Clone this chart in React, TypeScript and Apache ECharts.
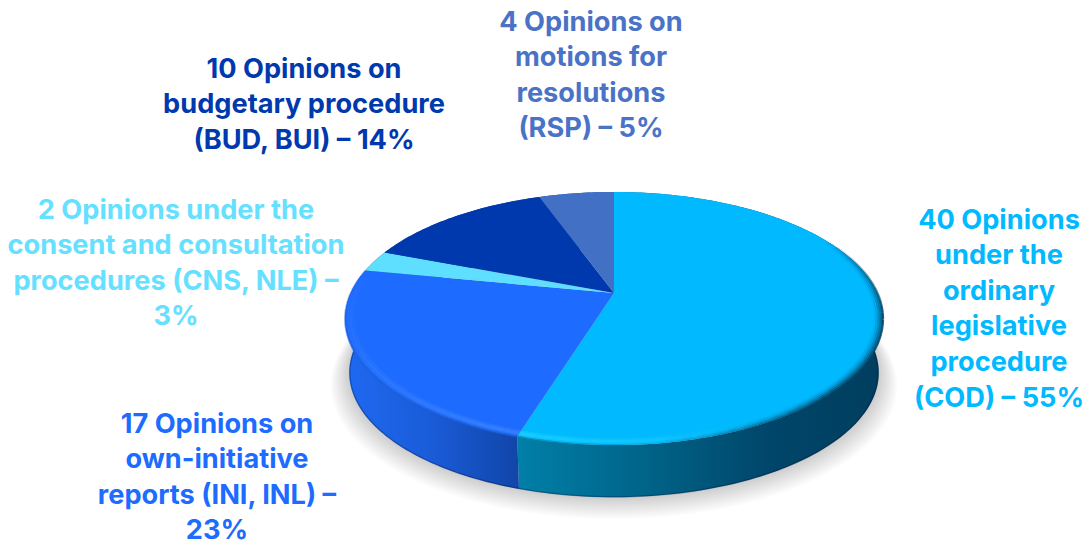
import React, { useEffect, useRef } from "react";
import * as echarts from "echarts";

const categories = ["COD", "INI", "CNS", "BUD", "RSP"];
const opinionCounts = [40, 17, 2, 10, 4];
const sliceColors = ["#00B9FF", "#1E6BFF", "#5FDFFF", "#0038AE", "#4270C4"];
const labelColors = ["#00B9FF", "#1E6BFF", "#66E0FF", "#0038AE", "#4A72C6"];
const labelLines = [
  ["40 Opinions", "under the", "ordinary", "legislative", "procedure", "(COD) – 55%"],
  ["17 Opinions on", "own-initiative", "reports (INI, INL) –", "23%"],
  ["2 Opinions under the", "consent and consultation", "procedures (CNS, NLE) –", "3%"],
  ["10 Opinions on", "budgetary procedure", "(BUD, BUI) – 14%"],
  ["4 Opinions on", "motions for", "resolutions", "(RSP) – 5%"],
];
const labelCenterX = [999, 217, 176, 304, 591];
const labelFirstY = [219, 423, 209, 68, 21];
const lineGap = 35.6;

const APEX_X = 614, APEX_Y = 293, R = 263.4, K = 121.4, P = 0.2017, DEPTH = 55, BOTTOM_R = 0.985;
const total = opinionCounts.reduce((a, b) => a + b, 0);
const project = (deg: number, r = 1, dy = 0): number[] => {
  const t = (deg * Math.PI) / 180;
  const x = r * Math.sin(t), z = r * Math.cos(t), w = 1 + P * z;
  return [APEX_X + (R * x) / w, APEX_Y - (K * z) / w + dy];
};
const arc = (a: number, b: number, r = 1, dy = 0) => {
  const pts: number[][] = [];
  const n = Math.max(2, Math.ceil(Math.abs(b - a)));
  for (let i = 0; i <= n; i++) pts.push(project(a + ((b - a) * i) / n, r, dy));
  return pts;
};
const range = (i: number) => {
  const before = opinionCounts.slice(0, i).reduce((a, b) => a + b, 0);
  return [(before / total) * 360, ((before + opinionCounts[i]) / total) * 360];
};
const hGrad = (stops: [number, string][]) => ({
  type: "linear", x: 345, y: 0, x2: 883, y2: 0, global: true,
  colorStops: stops.map(([o, color]) => ({ offset: (o - 345) / 538, color })),
});
const sideFill = [
  hGrad([[345, "#006A8F"], [519, "#007FA8"], [640, "#00658A"], [770, "#00466A"], [883, "#003E5E"]]),
  hGrad([[345, "#1E69F2"], [430, "#1A5CD8"], [519, "#1145A9"], [883, "#1145A9"]]),
];
const seriesData = opinionCounts.map((v, i) => ({ name: categories[i], value: v }));
// piecewise-linear opacity over the rim angle
const fade = (deg: number, keys: number[][]) => {
  if (deg <= keys[0][0]) return keys[0][1];
  for (let k = 1; k < keys.length; k++) {
    if (deg <= keys[k][0]) {
      const [a0, v0] = keys[k - 1], [a1, v1] = keys[k];
      return v0 + ((v1 - v0) * (deg - a0)) / (a1 - a0);
    }
  }
  return keys[keys.length - 1][1];
};
const rimSegments = (from: number, to: number, r: number, rgb: string, keys: number[][], peak: number, width: number) => {
  const out: any[] = [];
  const step = 3;
  for (let d = from; d < to; d += step) {
    const e = Math.min(to, d + step);
    const alpha = fade((d + e) / 2, keys) * peak;
    if (alpha < 0.01) continue;
    out.push({
      type: "polyline", shape: { points: arc(d, e, r) },
      style: { fill: "none", stroke: `rgba(${rgb},${alpha.toFixed(3)})`, lineWidth: width },
    });
  }
  return out;
};
const rimBands: number[][] = [[1, 0.85], [0.993, 0.6], [0.986, 0.36], [0.979, 0.18], [0.972, 0.07]];
const darkKeys = [[62, 0], [100, 1], [135, 1], [172, 0]];
const glowKeys = [[140, 0], [172, 0.6], [197.3, 1]];
const iniGlowKeys = [[197.3, 1], [245, 0.55], [276, 0.12], [281, 0]];
const iniEdgeKeys = [[197.3, 0.8], [250, 0.6], [281, 0.15]];
const SHADOW_LAYERS = [1, 2, 3, 4, 5, 6, 7, 8, 9, 10, 11, 12];

const renderSide = (params: any, api: any) => {
  const i = params.dataIndex;
  api.value(0);
  const [a, b] = range(i);
  const children: any[] = [];
  if (i === 0) {
    SHADOW_LAYERS.forEach((k) =>
      children.push({
        type: "polygon",
        shape: { points: arc(0, 360, BOTTOM_R + k * 0.0055, DEPTH + k * 0.75) },
        style: { fill: "rgba(0,0,0,0.016)" },
      })
    );
  }
  const fill = sideFill[i] || "#1145A9";
  children.push({
    type: "polygon",
    shape: { points: [...arc(a, b), ...arc(b, a, BOTTOM_R, DEPTH)] },
    style: { fill },
  });
  if (i < 2) {
    children.push({
      type: "polyline",
      shape: { points: arc(i === 0 ? 75 : a, i === 0 ? b : 278, BOTTOM_R - 0.002, DEPTH) },
      style: { fill: "none", stroke: "rgba(0,10,50,0.28)", lineWidth: 1.5 },
    });
  }
  return { type: "group", children };
};

const renderTop = (params: any, api: any) => {
  const i = params.dataIndex;
  api.value(0);
  const [a, b] = range(i);
  const children: any[] = [
    {
      type: "polygon",
      shape: { points: [[APEX_X, APEX_Y], ...arc(a, b)] },
      style: { fill: sliceColors[i] },
    },
  ];
  if (i === 0) {
    rimBands.forEach(([r, o]) => children.push(...rimSegments(60, b, r, "0,66,100", darkKeys, o, 2.4)));
    [[0.99, 0.3], [0.98, 0.55], [0.97, 0.3]].forEach(([r, o]) =>
      children.push(...rimSegments(140, b, r, "40,220,255", glowKeys, o, 2.4)));
    children.push(...rimSegments(165, b, 1, "0,127,168", [[165, 0], [197.3, 0.7]], 1, 2));
  }
  if (i === 1) {
    [[0.99, 0.25], [0.98, 0.45], [0.97, 0.25]].forEach(([r, o]) =>
      children.push(...rimSegments(a, b, r, "80,150,255", iniGlowKeys, o, 2.4)));
    children.push(...rimSegments(a, b, 1, "24,90,215", iniEdgeKeys, 1, 2));
  }
  return { type: "group", children };
};

const renderLabel = (params: any, api: any) => {
  const i = params.dataIndex;
  api.value(0);
  return {
    type: "group",
    children: labelLines[i].map((text, j) => ({
      type: "text",
      style: {
        text, x: labelCenterX[i], y: labelFirstY[i] + j * lineGap,
        align: "center", verticalAlign: "middle",
        fontFamily: "Inter", fontWeight: 700, fontSize: 27.2, fill: labelColors[i],
      },
    })),
  };
};

export default function App() {
  const ref = useRef<HTMLDivElement>(null);
  useEffect(() => {
    document.body.style.margin = "0";
    const chart = echarts.init(ref.current!, null, { renderer: "svg" });
    const base = { type: "custom", coordinateSystem: "none", silent: true, data: seriesData };
    chart.setOption({
      animation: false,
      backgroundColor: "#ffffff",
      series: [
        { ...base, name: "side", z: 1, renderItem: renderSide },
        { ...base, name: "top", z: 2, renderItem: renderTop },
        { ...base, name: "label", z: 3, renderItem: renderLabel },
      ],
    });
    return () => chart.dispose();
  }, []);
  return <div ref={ref} style={{ width: 1091, height: 545 }} />;
}
